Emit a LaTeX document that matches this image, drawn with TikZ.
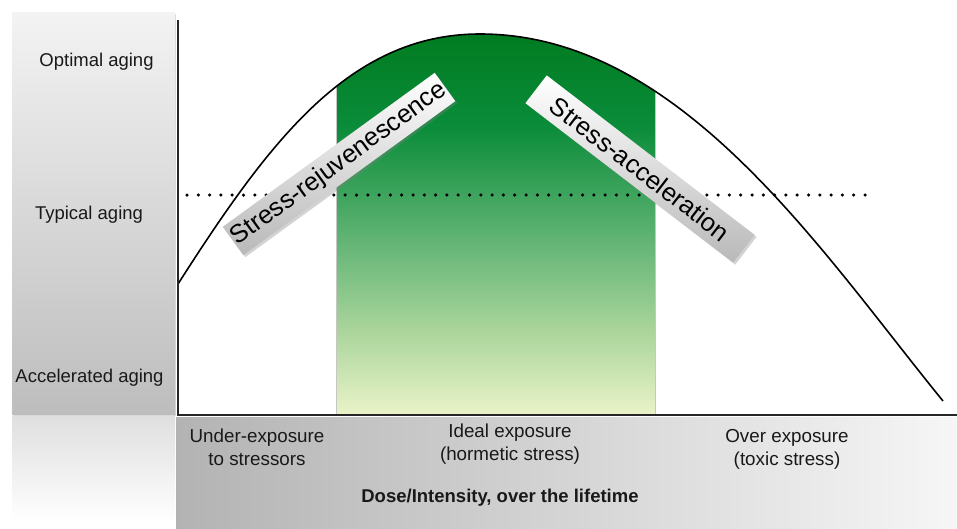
\documentclass[tikz,border=0pt]{standalone}
\usepackage{fontspec}
\setmainfont{Liberation Sans}
\usetikzlibrary{shadows}
\definecolor{gtop}{HTML}{007A1E}
\definecolor{gup}{HTML}{0A8C3A}
\definecolor{gmid}{HTML}{6AB87A}
\definecolor{glow}{HTML}{A9D49A}
\definecolor{gbot}{HTML}{EAF3C8}
\definecolor{bartop}{HTML}{F3F3F3}
\definecolor{barbot}{HTML}{BDBDBD}
\definecolor{axl}{HTML}{B3B3B3}
\definecolor{axr}{HTML}{F6F6F6}
\pgfdeclareverticalshading{greenshade}{100bp}{color(0bp)=(gbot); color(25bp)=(gbot); color(36bp)=(glow); color(46bp)=(gmid); color(62bp)=(gup); color(75bp)=(gtop); color(100bp)=(gtop)}
\tikzset{
  sidelabel/.style={anchor=base, font=\fontsize{18.5}{22}\selectfont, text=black!90},
  doselabel/.style={anchor=base, align=center, font=\fontsize{18.8}{23}\selectfont, text=black!90},
  labelbox/.style={minimum width=262pt, minimum height=35pt, inner sep=0pt,
    top color=white, bottom color=gray!55, font=\fontsize{25.5}{29}\selectfont,
    drop shadow={shadow xshift=2pt, shadow yshift=-2pt, opacity=0.35}},
  curveline/.style={line width=1.6pt, black},
  axisline/.style={line width=2pt, black!85},
  dotline/.style={line width=3.5pt, line cap=round, dash pattern=on 0pt off 11.3pt, black}
}
\def\hump{(178,284) .. controls (270,140) and (350,34) .. (480,34) .. controls (680,34) and (820,250) .. (943,401)}
\begin{document}
\begin{tikzpicture}[x=1pt,y=-1pt]
\useasboundingbox (0,0) rectangle (957,528);
% reflection under left bar
\shade[top color=gray!25, bottom color=white] (12,416) rectangle (175,522);
% left bar
\node[draw=none, minimum width=163pt, minimum height=402pt, inner sep=0pt,
  top color=bartop, bottom color=barbot,
  drop shadow={shadow xshift=1pt, shadow yshift=-2pt, opacity=0.3}] (leftbar) at (93.5,213) {};
% bottom bar
\shade[left color=axl, right color=axr] (176,417) rectangle (957,528);
% green region clipped by curve
\begin{scope}
\clip \hump -- (943,415) -- (178,415) -- cycle;
\shade[shading=greenshade] (336,25) rectangle (655,415);
\draw[gray!45, line width=1pt] (336,25) -- (336,415) (655,25) -- (655,415);
\end{scope}
% curve
\draw[curveline] \hump;
% dotted typical line
\coordinate (dotA) at (187,195);
\coordinate (dotB) at (866,195);
\draw[dotline] (dotA) -- (dotB);
% rotated labels
\node[labelbox, rotate=36] (rejuv) at (339,164) {Stress-rejuvenescence};
\node[labelbox, rotate=-37.5] (accel) at (640,169) {Stress-acceleration};
% axes
\coordinate (origin) at (178,415);
\coordinate (ytop) at (178,20);
\coordinate (xend) at (957,415);
\draw[axisline] (ytop) -- (origin) -- (xend);
% side labels
\node[sidelabel] (optimal) at (96.5,66.5) {Optimal aging};
\node[sidelabel] (typical) at (89,219) {Typical aging};
\node[sidelabel] (accelerated) at (89.5,382) {Accelerated aging};
% exposure labels
\node[doselabel] (under) at (257,465) {Under-exposure\\to stressors};
\node[doselabel] (ideal) at (510,460) {Ideal exposure\\(hormetic stress)};
\node[doselabel] (over) at (787,465) {Over exposure\\(toxic stress)};
\node[anchor=base, font=\bfseries\fontsize{18.5}{22}\selectfont, text=black!90] (dose) at (500,502) {Dose/Intensity, over the lifetime};
\end{tikzpicture}
\end{document}
